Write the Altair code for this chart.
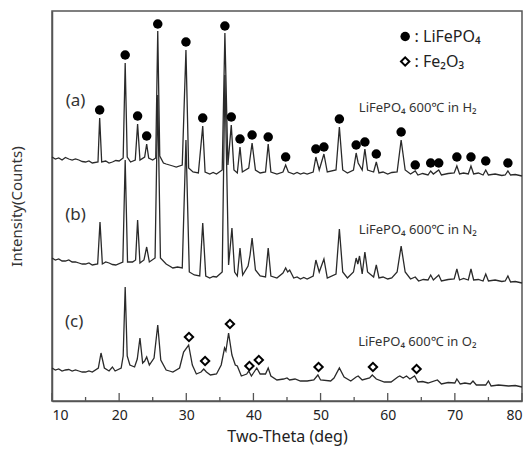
import altair as alt
import pandas as pd

FONT = "Noto Sans"

# ---- XRD traces (2-theta in deg, intensity in arbitrary units incl. vertical offset) ----
A_TTH = [10.0, 10.5, 11.0, 11.5, 12.0, 12.5, 13.0, 13.5, 14.0, 14.5, 15.0, 15.5, 16.0, 16.85, 17.1, 17.4, 18.0, 18.5, 19.0, 19.5, 20.0, 20.6, 20.9, 21.2,
         21.7, 22.4, 22.75, 23.1, 23.8, 24.1, 24.4, 25.0, 25.45, 25.75, 26.05, 26.6, 27.0, 27.5, 28.0, 28.5, 29.4, 29.95, 30.35,
         31.0, 31.8, 32.45, 32.8, 33.5, 34.0, 34.5, 35.35, 35.75, 36.2, 36.7, 37.1, 37.6, 38.0, 38.35, 39.3, 39.8, 40.3,
         41.0, 41.8, 42.2, 42.6, 43.5, 44.4, 44.8, 45.2, 46.0, 46.5, 47.0, 47.5, 48.0, 48.9, 49.3, 49.8, 50.5, 51.0, 52.3, 52.8,
         53.3, 54.0, 54.9, 55.3, 55.6, 56.2, 56.6, 57.0, 57.9, 58.3, 58.7, 59.3, 60.0, 60.6, 61.4, 62.0, 62.6, 63.4, 64.1, 64.5,
         65.2, 66.0, 66.4, 66.8, 67.6, 68.0, 69.0, 69.9, 70.3, 70.7, 71.3, 72.0, 72.4, 72.8, 73.5, 74.2, 74.6, 75.0, 76.0, 77.0, 77.5, 77.9, 78.3, 79.0, 80.0]
A_INT = [244, 242, 243, 241, 243.5, 242, 241, 242, 241, 239.5, 239, 240, 238, 239, 283, 239, 240, 238, 239, 240.5, 240, 243, 338, 244,
         239, 241, 277, 241, 244, 257, 243, 241, 243, 370, 245, 238, 237, 236, 235, 234, 236, 351, 233,
         229, 228, 275, 229, 227, 228.5, 227, 231, 368, 236, 276, 231, 228, 254, 229, 233, 258, 231,
         228, 229, 257, 229, 227, 229, 236, 229, 227, 228.5, 227, 228, 227, 229, 244, 231, 247, 229, 231, 274,
         231, 228, 231, 248, 238, 231, 252, 231, 229, 239, 228, 229, 227, 228.5, 229, 261, 231, 227, 230, 226,
         227.5, 226, 230, 227, 231, 226, 227.5, 228, 235, 227, 228, 227, 235, 227, 228, 226, 231, 226, 227, 225.5, 226, 230, 226, 226.5, 225]

B_TTH = [10.0, 10.5, 11.0, 11.5, 12.0, 12.5, 13.0, 13.5, 14.0, 14.5, 15.0, 15.5, 16.0, 16.8, 17.15, 17.5, 18.0, 18.5, 19.0, 19.5, 20.55, 20.9,
         21.25, 22.0, 22.45, 22.75, 23.1, 23.7, 24.1, 24.5, 25.35, 25.75, 26.15, 27.0, 27.5, 28.0, 28.7, 29.4, 29.95, 30.45, 31.2,
         32.0, 32.45, 32.9, 33.5, 34.0, 34.5, 35.35, 35.75, 36.3, 36.8, 37.2, 37.6, 38.0, 38.4, 39.2, 39.5, 39.8, 40.3, 41.0,
         41.8, 42.2, 42.6, 43.5, 44.4, 44.8, 45.1, 45.4, 46.0, 46.5, 47.0, 47.5, 48.0, 48.9, 49.3, 49.8, 50.5, 51.0, 52.3, 52.8,
         53.3, 54.0, 54.9, 55.3, 55.55, 55.8, 56.2, 56.6, 57.0, 57.9, 58.3, 58.7, 59.3, 60.0, 60.6, 61.4, 62.0, 62.6, 63.4, 64.1,
         64.6, 65.3, 66.0, 66.4, 66.8, 67.6, 68.0, 69.0, 69.9, 70.3, 70.7, 71.3, 72.0, 72.4, 72.8, 73.5, 74.2, 74.6, 75.0, 76.0, 77.0, 77.5, 77.9, 78.3, 79.0, 80.0]
B_INT = [143, 141, 142, 140, 140, 141, 139, 139, 138, 137, 137, 138, 136, 137, 179, 137, 139, 138, 136.5, 136, 139, 241,
         139, 139, 141, 181, 138, 141, 154, 139, 143, 306, 143, 137, 135, 133, 134, 133, 261, 129, 126,
         125, 178, 125, 123, 124.5, 124, 129, 326, 136, 173, 129, 125, 153, 126, 135, 146, 163, 131, 125,
         124, 153, 125, 123, 128, 133, 129, 131, 123, 124, 122, 123.5, 122, 125, 141, 129, 142, 123, 127, 172,
         129, 123, 129, 143, 137, 145, 127, 149, 129, 124, 136, 123, 124, 122, 123, 129, 155, 129, 122, 124,
         120, 121.5, 121, 126, 121, 126, 120, 121.5, 122, 132, 121, 122.5, 121, 132, 121, 121.5, 120, 127, 120, 121, 119.5, 120, 125, 119, 119.5, 118]

C_TTH = [10.0, 10.5, 11.0, 11.5, 12.0, 12.5, 13.0, 13.5, 14.0, 14.5, 15.0, 15.5, 16.0, 16.9, 17.3, 17.8, 18.5, 19.0, 19.4, 20.3, 20.6, 20.9, 21.2,
         21.6, 22.3, 22.7, 23.1, 23.5, 23.8, 24.1, 24.5, 25.2, 25.75, 26.2, 27.0, 27.5, 28.0, 29.0, 29.6, 30.35, 30.9,
         31.5, 32.2, 32.6, 33.0, 33.6, 34.5, 35.2, 35.7, 35.9, 36.3, 36.8, 37.3, 37.6, 38.2, 39.0, 39.3, 39.7,
         40.2, 40.5, 41.0, 41.8, 42.2, 42.6, 43.5, 44.5, 45.0, 45.4, 46.2, 47.0, 48.0, 49.0, 49.6, 50.0, 51.5, 52.0,
         52.8, 53.5, 54.5, 55.3, 55.6, 56.2, 57.3, 57.7, 58.3, 59.5, 60.5, 61.5, 61.8, 62.3, 62.8, 63.3, 64.0,
         64.5, 65.2, 66.0, 67.4, 68.0, 69.0, 70.0, 70.3, 70.8, 71.5, 72.3, 72.7, 73.2, 74.6, 75.0, 75.4, 76.5, 78.0, 79.0, 80.0]
C_INT = [33, 31, 32, 30, 31, 31.5, 30, 31, 30, 29, 29, 30, 29, 33, 48, 33, 30, 34, 30, 33, 45, 114, 45,
         36, 34, 42, 63, 38, 40, 44, 36, 43, 76, 41, 31, 30, 29, 33, 49, 56, 36,
         27, 29, 32, 29, 26, 27, 36, 53, 50, 68, 46, 36, 35, 25, 27, 30, 25,
         30, 33, 27, 27, 33, 25, 21, 22, 23, 21, 22, 20, 20, 21, 26, 21, 20, 23,
         33, 24, 20, 24, 25, 21, 23, 26, 22, 19, 19, 24, 25, 23, 25, 22, 25,
         19, 19.5, 18, 21, 17, 18.5, 18, 22, 17, 18, 17, 20, 16, 16, 20, 15, 16, 15, 15.5, 14]

# ---- phase markers ----
LFP_TTH = [17.1, 20.9, 22.75, 24.1, 25.75, 29.95, 32.45, 35.75, 36.7, 38.0, 39.8, 42.2, 44.8, 49.3, 50.5, 52.8,
           55.3, 56.6, 58.3, 62.0, 64.1, 66.4, 67.6, 70.3, 72.4, 74.6, 77.9]
LFP_INT = [291, 346, 285, 265, 377, 359, 283, 375, 284, 262, 266, 264, 244, 252, 254, 282,
           256, 259, 247, 269, 236, 238, 238, 244, 244, 240, 238]
FE_TTH = [30.4, 32.8, 36.5, 39.4, 40.8, 49.7, 57.8, 64.3]
FE_INT = [64, 40, 77, 35, 41, 34, 34, 32]

# ---- axis ticks ----
MAJOR_TICKS = [10, 20, 30, 40, 50, 60, 70, 80]
MINOR_TICKS = [15, 25, 35, 45, 55, 65, 75]

# ---- annotations ----
PANEL_LABELS = ["(a)", "(b)", "(c)"]
PANEL_X = [13.5, 13.5, 13.3]
PANEL_Y = [300, 186, 79]
COND_LABELS = ["LiFePO₄ 600℃ in H₂", "LiFePO₄ 600℃ in N₂", "LiFePO₄ 600℃ in O₂"]
COND_X = [55.7, 55.7, 55.6]
COND_Y = [293, 171, 59]
LEG_TEXT = [": LiFePO₄", ": Fe₂O₃"]
LEG_X = [62.6, 62.6]
LEG_TEXT_X = [64.0, 64.0]
LEG_Y = [364.5, 339.5]

rows = []
for name, xs, ys in [("a", A_TTH, A_INT), ("b", B_TTH, B_INT), ("c", C_TTH, C_INT)]:
    for x, y in zip(xs, ys):
        rows.append({"series": name, "tth": x, "I": y})
traces = pd.DataFrame(rows)

xscale = alt.Scale(domain=[10, 80], nice=False, zero=False)
yscale = alt.Scale(domain=[0, 390], nice=False, zero=False)

xenc = alt.X("tth:Q", scale=xscale,
             axis=alt.Axis(values=MAJOR_TICKS, title="Two-Theta (deg)", tickSize=0, labelPadding=7,
                           labelFontSize=14, labelColor="#222", titleFontSize=16, titleColor="#222",
                           titleFontWeight="normal", titlePadding=6, grid=False, domainColor="#555",
                           domainWidth=1.5, labelFont=FONT, titleFont=FONT))
yenc = alt.Y("I:Q", scale=yscale,
             axis=alt.Axis(title="Intensity(Counts)", labels=False, ticks=False, grid=False,
                           titleFontSize=15, titleColor="#333", titleFontWeight="normal",
                           titlePadding=28, domainColor="#555", domainWidth=1.5, titleFont=FONT))

lines = alt.Chart(traces).mark_line(color="#2a2a2a", strokeWidth=1.3).encode(
    x=xenc, y=yenc, detail="series:N", order="tth:Q")

major = alt.Chart(pd.DataFrame({"tth": MAJOR_TICKS})).mark_rule(color="#555", strokeWidth=1.3).encode(
    x=alt.X("tth:Q", scale=xscale), y=alt.value(390), y2=alt.value(382))
minor = alt.Chart(pd.DataFrame({"tth": MINOR_TICKS})).mark_rule(color="#555", strokeWidth=1.3).encode(
    x=alt.X("tth:Q", scale=xscale), y=alt.value(390), y2=alt.value(386))

lfp = alt.Chart(pd.DataFrame({"tth": LFP_TTH, "I": LFP_INT})).mark_point(
    shape="circle", filled=True, size=90, color="black", opacity=1).encode(
    x=alt.X("tth:Q", scale=xscale), y=alt.Y("I:Q", scale=yscale))
fe = alt.Chart(pd.DataFrame({"tth": FE_TTH, "I": FE_INT})).mark_point(
    shape="diamond", filled=False, size=70, color="black", strokeWidth=2, fill="white", fillOpacity=1, opacity=1).encode(
    x=alt.X("tth:Q", scale=xscale), y=alt.Y("I:Q", scale=yscale))

panel = alt.Chart(pd.DataFrame({"tth": PANEL_X, "I": PANEL_Y, "t": PANEL_LABELS})).mark_text(
    fontSize=17, font=FONT, color="#333", align="center", baseline="middle").encode(
    x=alt.X("tth:Q", scale=xscale), y=alt.Y("I:Q", scale=yscale), text="t:N")
cond = alt.Chart(pd.DataFrame({"tth": COND_X, "I": COND_Y, "t": COND_LABELS})).mark_text(
    fontSize=13, font=FONT, color="#333", align="left", baseline="middle").encode(
    x=alt.X("tth:Q", scale=xscale), y=alt.Y("I:Q", scale=yscale), text="t:N")

leg_sym = pd.DataFrame({"tth": LEG_X, "I": LEG_Y, "k": ["LiFePO4", "Fe2O3"]})
leg_c = alt.Chart(leg_sym.iloc[[0]]).mark_point(shape="circle", filled=True, size=90, color="black", opacity=1).encode(
    x=alt.X("tth:Q", scale=xscale), y=alt.Y("I:Q", scale=yscale))
leg_d = alt.Chart(leg_sym.iloc[[1]]).mark_point(shape="diamond", filled=False, size=70, color="black",
                                                 strokeWidth=2, opacity=1).encode(
    x=alt.X("tth:Q", scale=xscale), y=alt.Y("I:Q", scale=yscale))
leg_t = alt.Chart(pd.DataFrame({"tth": LEG_TEXT_X, "I": LEG_Y, "t": LEG_TEXT})).mark_text(
    fontSize=16, font=FONT, color="#222", align="left", baseline="middle").encode(
    x=alt.X("tth:Q", scale=xscale), y=alt.Y("I:Q", scale=yscale), text="t:N")

chart = alt.layer(lines, major, minor, lfp, fe, panel, cond, leg_c, leg_d, leg_t).properties(
    width=470, height=390,
    autosize=alt.AutoSizeParams(type="none"),
    padding={"left": 52, "top": 11, "right": 9, "bottom": 54},
    background="white",
).configure_view(stroke="#555", strokeWidth=1.5)

chart.save("out.html", embed_options={"renderer": "svg", "actions": False})
